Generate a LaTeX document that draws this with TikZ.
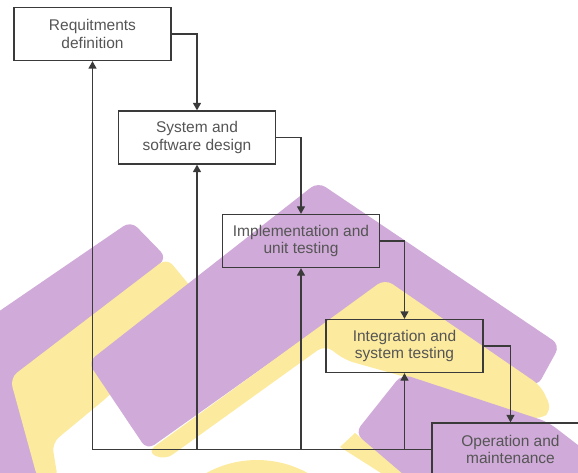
\documentclass[tikz,border=0pt]{standalone}
\usepackage{fontspec}
\setmainfont{Liberation Sans}
\usetikzlibrary{arrows.meta, positioning}
\definecolor{wmpurple}{HTML}{D0AAD8}
\definecolor{wmyellow}{HTML}{FCEA9E}
\definecolor{lgray}{HTML}{3A3A3A}
\definecolor{tgray}{HTML}{555555}

\tikzset{
  phase/.style={draw=lgray, line width=1.3pt, minimum width=157pt, minimum height=53pt,
    inner sep=0pt, align=center, text=tgray, font=\fontsize{15.5}{17.5}\selectfont},
  flow/.style={draw=lgray, line width=1.3pt, -{Triangle[length=7.5pt, width=8pt]}},
  wm/.style={rounded corners=9pt}
}

\begin{document}
\begin{tikzpicture}[x=1pt, y=-1pt]

  \useasboundingbox (0,0) rectangle (578,473);
  \clip (0,0) rectangle (578,473);

  %% Watermark
  \fill[wmpurple, wm] (-40,338) -- (131,221) -- (167,258) -- (40,360) -- (50,480) -- (-40,480) -- cycle;
  \fill[wmyellow, wm] (167,258) -- (195,292) -- (110,395) -- (52,443) -- (58,480) -- (38,480) -- (10,378) -- cycle;
  \fill[wmpurple, wm] (88,362) -- (318,182) -- (560,345) -- (537,387) -- (385,281) -- (147,450) -- cycle;
  \fill[wmyellow, wm] (147,452) -- (385,279) -- (541,386) -- (552,410) -- (540,420) -- (402,376) -- (345,360) -- (325,345) -- (165,460) -- cycle;
  \fill[wmyellow] (340,447) -- (355,433) -- (412,480) -- (392,480) -- cycle;
  \fill[wmpurple, wm] (355,433) -- (402,374) -- (548,422) -- (600,462) -- (600,480) -- (410,480) -- cycle;
  \fill[wmyellow] (257,565) circle (105);

  %% Phases
  \node[phase] (req)    at (92.5,34)    {Requitments\\definition};
  \node[phase] (design) at (197,137.5)  {System and\\software design};
  \node[phase] (impl)   at (301,241)    {Implementation and\\unit testing};
  \node[phase] (integ)  at (404.5,346)  {Integration and\\system testing};
  \node[phase] (oper)   at (510.5,449.5) {Operation and\\maintenance};

  %% Forward flow
  \draw[flow] (req.east) -| (design.north);
  \draw[flow] (design.east) -| (impl.north);
  \draw[flow] (impl.east) -| (integ.north);
  \draw[flow] (integ.east) -| (oper.north);

  %% Feedback
  \draw[flow] (oper.west) -| (req.south);
  \foreach \ph in {design, impl, integ}{
    \draw[flow] (oper.west -| \ph.south) -- (\ph.south);
  }

\end{tikzpicture}
\end{document}
